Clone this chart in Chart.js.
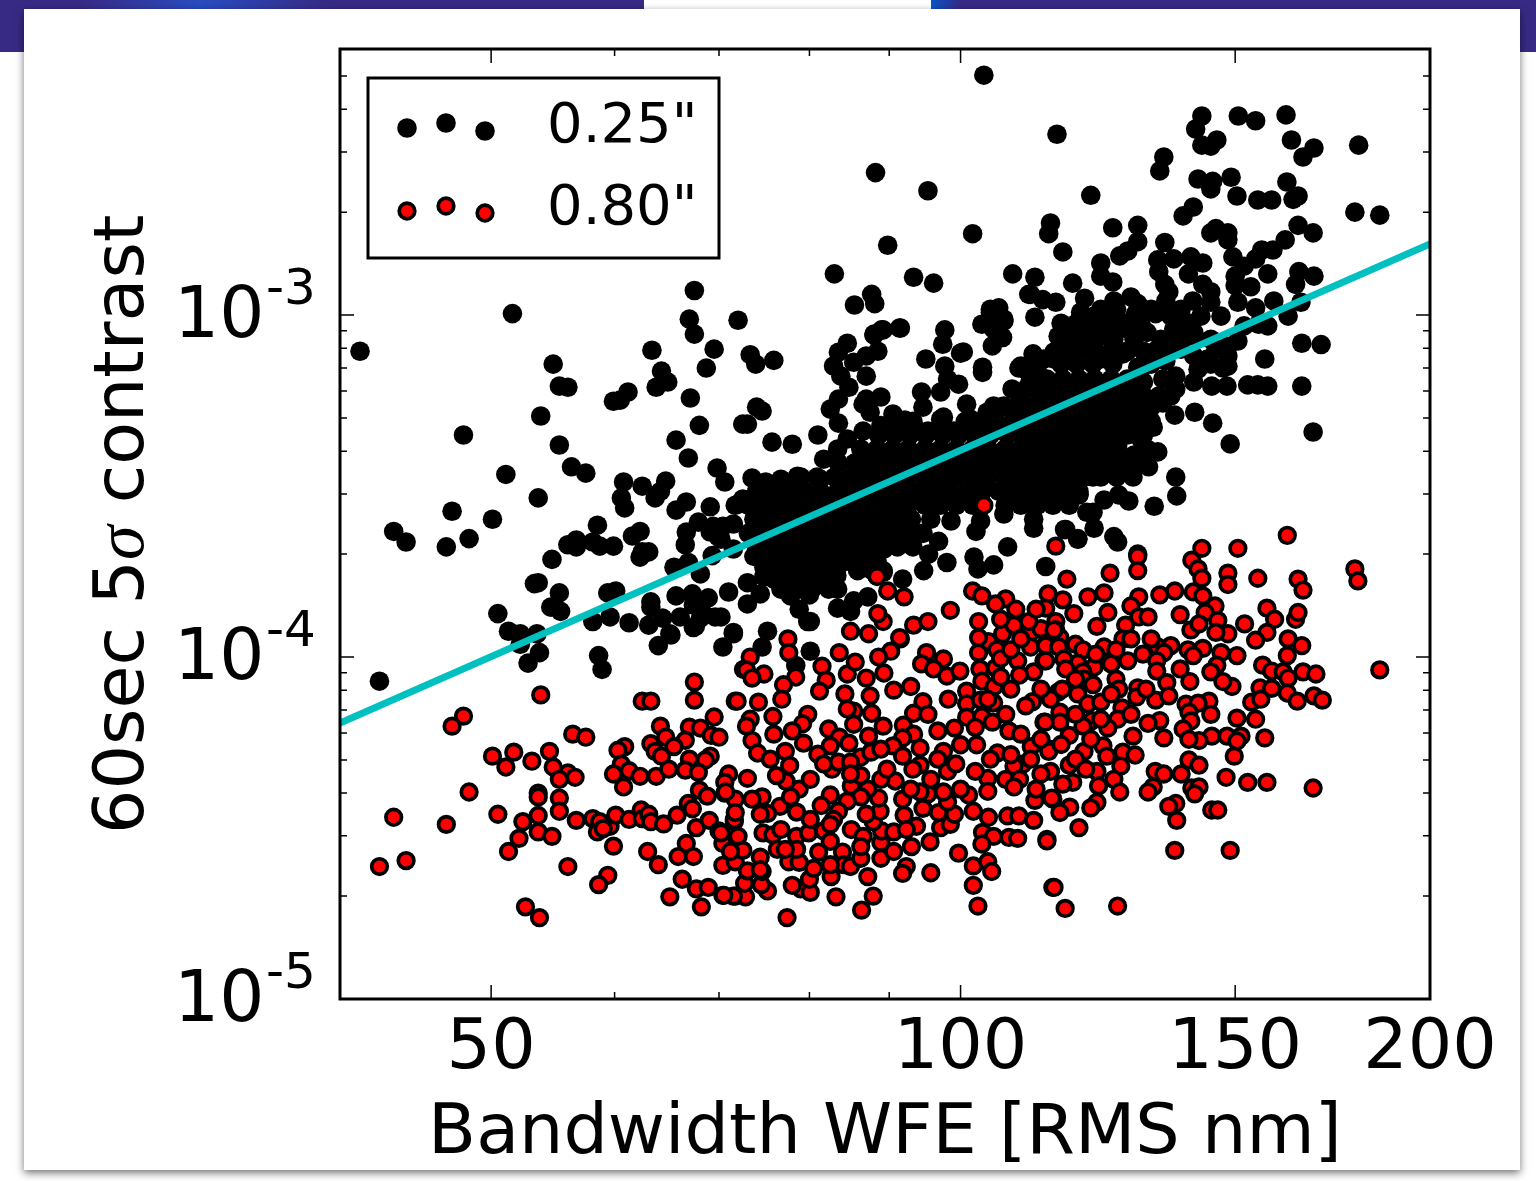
<!DOCTYPE html>
<html>
<head>
<meta charset="utf-8">
<title>Contrast vs WFE</title>
<script src="https://cdn.jsdelivr.net/npm/chart.js@4"></script>
<style>
    body { margin: 0; background: #fff; overflow: hidden; }
    .band { position: absolute; top: 0; height: 52px; }
    #bandLeft { left: 0; width: 644px; background: linear-gradient(90deg, #372a85 0, #372a85 80px, #2a4cc0 200px, #372a85 330px); }
    #bandRight { left: 931px; width: 605px; background: linear-gradient(90deg, #0a55c8 0, #372a85 30px); }
    #panel { position: absolute; left: 24px; top: 9px; width: 1496px; height: 1161px; background: #fff; box-shadow: 0 3px 8px rgba(0, 0, 0, .55); }
    #plot { position: absolute; left: 0; top: 0; }
</style>
</head>
<body>
<div class="band" id="bandLeft"></div>
<div class="band" id="bandRight"></div>
<div id="panel"></div>
<canvas id="plot" width="1536" height="1181"></canvas>
<script>
// Axis ticks and labels
const xMajorTicks = [50, 100, 150, 200];
const xMinorTicks = [60, 70, 80, 90];
const yDecades = [-3, -4, -5];
const yMinorFactors = [2, 3, 4, 5, 6, 7, 8, 9];
const xLabel = 'Bandwidth WFE [RMS nm]';
const seriesLabels = ['0.25"', '0.80"'];
const yMax = 6e-3;

// Contrast values in the arrays below are in units of 1e-4
const contrastUnit = 1e-4;

// Fit line, end points read at the axis limits
const fitLine = [[40, 0.641], [200, 16.14]];

// 0.25" separation: [WFE nm, contrast]
const points025 = [
[103.5,50.3],[115.3,33.8],[142.8,38.2],[141.5,35],[150.7,38.2],[154.6,37],[161.7,38.5],[142.8,31.4],[144.7,31.2],[146,32.5],[163,32.5],[168.5,30.8],[165.8,29],[180,31.4],[135,29],[134.2,26.4],[142,25],[145.1,24.6],[144.7,23.4],[149.1,25.3],[150.4,22.3],[155.1,21.7],[158.3,21.7],[161.9,24.5],[164.6,22.3],[163.4,21.8],[88.2,26.1],[95.3,23.1],[121.2,22.4],[179,20],[185.7,19.6],[141,20.7],[138.9,19.5],[101.8,17.3],[89.8,16],[114.2,18.6],[113.9,17.3],[116.3,15.3],[125.2,18],[129.9,18.3],[129.9,16.4],[128,15.4],[126.5,14.9],[135.2,16.3],[145.8,17.9],[144.7,17.4],[148.4,17.4],[148.4,16.6],[164.6,18.3],[168.3,17.4],[161.5,16.6],[158.6,15.5],[156,15.5],[83,13.2],[93.3,12.9],[96.1,12.4],[87.7,11.5],[88.1,10.8],[85.5,10.7],[108,13.2],[111.6,12.9],[118,12.4],[110.9,11.5],[112.9,11.1],[115.1,10.9],[120.1,11.2],[111.6,9.86],[91.5,9.17],[89,9.05],[88,8.8],[97.7,9.05],[84.6,8.27],
[67.5,11.8],[51.6,10.1],[41.2,7.84],[67,9.73],[67.5,8.8],[72,9.66],[63.4,7.89],[69.5,7.95],[68.7,7],[54.8,7.19],[55.3,6.2],[56,6.15],[64.3,6.86],[64.9,6.37],[63.8,6.15],[61.2,5.96],[60.5,5.64],[59.9,5.6],[67.1,5.72],[68,4.76],[72.5,4.8],[53.8,5.07],[48,4.46],[55.3,4.17],[65.7,4.31],[66.9,3.82],[69.8,3.57],[70.6,3.25],[56.3,3.6],[57.5,3.45],[51.1,3.42],[60.8,3.25],[62.5,3.16],[64.7,3.27],[64.2,3.05],[63.7,2.92],[60.6,2.92],[60.9,2.73],[53.6,2.92],[66.7,2.84],[65.7,2.69],[69.1,2.75],[72,2.8],[47.2,2.67],[50.1,2.53],[43.3,2.33],[44.1,2.17],[48.4,2.22],[46.8,2.1],[58.5,2.43],[56.7,2.2],[56,2.13],[56.7,2.1],[58.1,2.17],[58.7,2.11],[59.9,2.11],[61.6,2.26],[62.3,2.33],[62.5,2.03],[63.1,2.03],[62.3,1.96],[66.7,2.32],[66.6,2.13],[67.9,2.48],[69.4,2.41],[70.4,2.41],[71.5,2.45],[69.1,2.32],[70.2,2.21],[54.7,1.93],[53.3,1.64],[53.6,1.65],[65.5,1.83],[66.9,1.89],[68.1,1.75],[69.3,1.98],[55.3,1.54],[54.6,1.4],[55.4,1.36],[59.4,1.54],[60.1,1.56],[59.6,1.31],[58.1,1.27],[61.3,1.26],[63.1,1.24],[63.3,1.45],[63.3,1.4],[65.7,1.51],[67.3,1.53],[68.9,1.49],[71,1.55],[64.4,1.3],[66.1,1.31],[67.4,1.42],[68.3,1.35],[70.2,1.31],[50.5,1.34],[51.3,1.19],[52.2,1.17],[53.5,1.17],[65.1,1.17],[67.4,1.22],[71.5,1.18],[42.4,.85],[52.8,.96],[53.7,1.03],[52.2,1.09],[58.6,1.01],[58.9,.92],[64,1.08],[70.4,1.07],[72.6,.92],
[73.3,7.66],[73.9,7.19],[75.9,7.37],[74,5.38],[74.6,5.24],[73,4.8],[75.7,4.25],[78,4.19],[81,4.46],[91.4,9.17],[89.2,9.05],[88,8.74],[97.4,8.22],[100,7.74],[95,7.44],[83.5,7.79],[82.9,7.1],[87,7.59],[88.5,7.84],[85.4,7.28],[83.8,6.63],[87,6.63],[97.7,7.09],[98.1,6.5],[99.7,6.28],[97.1,5.96],[103.3,7.04],[103.3,6.8],[94.4,5.96],[84.8,6.15],[83.5,5.68],[82.5,5.31],[87,5.68],[88.9,5.76],[86.6,5.49],[87.5,5.2],[83.5,4.83],[90.5,5.14],[92.1,4.93],[94.6,5.38],[97.5,5.03],[100.9,5.49],[100.7,4.89],[103.7,4.89],[107.9,6.08],[104.5,10.2],[103.2,9.4],[106.6,9.6],[105,9.1],[106.4,8.6],[104.8,8.13],[109,7],[114.8,7.44],
[123,14.2],[133.8,14.5],[134,13.4],[137,14.6],[140.5,14.8],[143,14.2],[140,13.2],[149.5,14.8],[152,13.9],[154.6,14.6],[157.4,13.2],[164.8,13.4],[168.5,13],[164,12.3],[123,13],[125.2,12.5],[135.2,12.3],[143,12.3],[144.7,11.7],[150,13],[150,12.2],[153.5,12.1],[110.6,11.5],[136,11.7],[135.4,11],[140.9,11],[144.7,10.9],[150.6,10.9],[154.6,10.5],[158.8,11],[165.3,10.9],[162.2,9.93],[157.4,9.3],[155.3,9.4],[152,9.3],[150.6,8.4],[148.4,7.59],[104.5,10.4],[105.8,10.5],[106.6,9.73],[105.3,9.3],[106.1,8.6],[100.4,7.8],[116.3,9.3],[115.5,8.67],[119.4,10.2],[121.8,9.93],[125.4,11],[128.6,11.3],[129.9,10.8],[129.5,10.1],[126.1,9.6],[133.4,10.1],[136.4,9.93],[131.7,8.9],[129.2,8.5],[127.1,7.7],[120.7,8.7],[123.6,8.7],[125.4,8.5],[118.2,8.2],[121.2,7.95],[116,7.8],[123,7.44],[113.1,7.44],[109.3,7.1],[111.3,7.7],[134.4,8.5],[137,9.1],[133.8,7.95],[139.9,9.5],[141.1,8.67],[142.6,9.93],[146.9,9.93],[135.8,8.1],[141.1,7.6],[144.7,8.5],[148.4,7.09],[129.9,7.04],
[165.5,8.27],[170.3,8.2],[156.7,7.44],[165.5,6.2],[157.4,6.2],[155.1,6.25],[152.8,6.25],[148.2,6.2],[144.9,6.2],[147.3,7],[144.7,7.19],[142,6.95],[141.1,6.37],[137.4,6.63],[137.4,6.08],[136.4,5.8],[134.8,5.53],[137.2,5.1],[141.3,5.2],[145.1,4.83],[148.9,4.2],[168.3,4.55],[133.1,2.76],[137.4,3.36],[137.6,2.96],[133.8,3.98],[131.7,4.06],[132,3.6],[129.2,3.9],[126.3,3.62],[121.6,3.36],[119.1,2.98],[123.6,2.88],[126.3,2.98],[128.2,2.86],[121.6,2.65],[121.8,2.38],[116.8,2.36],[118.9,2.22],[125.4,2.25],[126.1,2.17],[129.9,2],
[94.7,1.79],[98,1.89],[102,1.96],[102.6,1.81],[105,1.86],[107.2,2.1],[106.6,2.62],[102.3,2.33],[103,2.5],[98.6,2.5],[96.8,2.18],[95.4,2],[111.4,2.38],[116.6,2.36],[118.9,2.21],[113.4,1.84],[119.1,3],[114.2,2.84],[111.4,2.75],[120.5,2.65],[88.9,2.07],[85.9,1.81],[89.2,1.79],[91.8,1.69],[83.1,1.72],[79.8,1.81],[77.8,1.72],[75.9,1.69],
[73.5,3.34],[75,3.25],[76.7,3.31],[78.6,3.38],[81.3,3.31],[83.8,3.25],[87.3,3.42],[72.5,2.9],[71.7,2.78],[75.2,2.76],[76.7,2.96],[79,3.1],[81.3,2.9],[83.4,3.05],[85.9,2.76],[84.6,3.14],[73.7,2.53],[75.9,2.65],[78.2,2.65],[80.5,2.57],[82.9,2.65],[85.4,2.53],[87.1,2.65],[89.2,2.57],[69.9,2.25],[71.5,2.07],[73.7,2.25],[75.9,2.32],[78.2,2.32],[80.5,2.32],[82.9,2.32],[85.4,2.25],[89.3,2.07],[87.6,2.07],[85.4,1.97],[82.9,2.03],[80.5,2.07],[77.5,2.07],[75.2,2.03],[73.7,1.97],[74.8,1.83],[79.9,1.81],[81.3,1.81],[83.8,1.88],[82.9,1.66],[83.4,1.58],[81,1.66],[77.5,1.72],[76.3,1.69],[74.8,1.72],[73,1.65],[74.4,1.53],[77.5,1.58],[77,1.65],[77.8,1.51],[80,1.52],[78.8,1.38],[80.1,1.27],[82.3,1.59],[73,1.43],[83.4,1.39],[85,1.36],[85.4,1.46],[87.2,1.5],[85.9,1.79],[87.8,1.79],[88.4,1.73],[89.2,1.77],[71.5,1.17],[75.2,1.19],[74.6,1.07],[80.1,1.04],[78.4,.945],[79.8,1.27],[68.1,1.38],[68.1,1.3],[69.6,1.31],[67.6,1.23],[65.2,1.16],
[81.7,3.79],[83.4,4.06],[84.6,4.34],[86.6,4.58],[88.9,4.75],[93.8,4.61],[95.3,4.58],[97.1,4.96],[99,4.58],[101.5,4.96],[104,5.2],[105,5.42],[106.6,5.42],[109.3,5.8],[110.5,6.2],[109.9,6.95],[112,7.1],[114.8,7.8],
[86.3,4.06],[88.4,4.06],[90.5,4.06],[92.6,4.06],[94.9,4.06],[97.1,4.06],[99.4,4.06],[101.8,4.06],[104.2,4.06],[106.8,4.06],[109.3,4.06],[112,4.06],[114.6,4.06],[117.4,4.06],[120.1,4.06],[123,4.06],[125.9,4.06],
[83.5,3.69],[85.5,3.69],[87.6,3.69],[89.7,3.69],[91.8,3.69],[94,3.69],[96.3,3.69],[98.5,3.69],[100.9,3.69],[103.3,3.69],[105.8,3.69],[108.3,3.69],[110.9,3.69],[113.6,3.69],[116.3,3.69],[119.1,3.69],[121.9,3.69],[124.9,3.69],[127.9,3.69],
[86.3,3.36],[88.4,3.36],[90.5,3.36],[92.6,3.36],[94.9,3.36],[97.1,3.36],[99.4,3.36],[101.8,3.36],[104.2,3.36],[106.8,3.36],[109.3,3.36],[112,3.36],[114.6,3.36],[117.4,3.36],[120.1,3.36],[123,3.36],[125.9,3.36],[129,3.36],
[85.5,3.05],[87.6,3.05],[89.7,3.05],[91.8,3.05],[94,3.05],[96.3,3.05],[98.5,3.05],[100.9,3.05],[103.3,3.05],[105.8,3.05],[108.3,3.05],[110.9,3.05],[113.6,3.05],[116.3,3.05],[119.1,3.05],
[88.4,2.78],[90.5,2.78],[92.6,2.78],[94.9,2.78],[97.1,2.78],[99.4,2.78],[101.8,2.78],[106.8,2.78],[109.3,2.78],[112,2.78],[114.6,2.78],[117.4,2.78],
[91,2.53],[93,2.53],[95.7,2.53],[111.4,2.53],[90.4,2.3],[92.4,2.3],[94.6,2.3],[91.1,2.1],[93.2,2.1],
[110.9,4.46],[113.6,4.46],[116.3,4.46],[119.1,4.46],[121.9,4.46],[124.9,4.46],[127.9,4.46],[131,4.46],
[109.7,4.89],[112.3,4.89],[115,4.89],[117.7,4.89],[120.5,4.89],[123.4,4.89],[126.3,4.89],[129.4,4.89],[132.5,4.89],
[108.3,5.38],[110.9,5.38],[113.6,5.38],[116.3,5.38],[119.1,5.38],[121.9,5.38],[124.9,5.38],[127.9,5.38],[131,5.38],
[112.3,5.92],[115,5.92],[117.7,5.92],[120.5,5.92],[123.4,5.92],[126.3,5.92],[129.4,5.92],
[110.9,6.5],[113.6,6.5],[116.3,6.5],[119.1,6.5],[121.9,6.5],[116,7.19],[118.7,7.19],[121.6,7.19],[125.2,7.19],
[119.4,9.1],[118.5,7.3],[128,9.1],[124.9,9.73],[119.4,9.93],[134.4,8.1],[133,7.8],[141.1,8.9],[148.4,8.1],[144,7.44],[121.8,7.95],[118.9,7.95],[117.7,8.67],[130.5,6.95],[131,6.37],[128.6,5.96],[131,5.8],[130.5,5.2],[128,4.83],[126.1,4.14],
[74,3.05],[75.8,3.05],[77.6,3.05],[79.5,3.05],[81.3,3.05],[73.1,2.78],[74.8,2.78],[76.7,2.78],[78.6,2.78],[80.3,2.78],[82.3,2.78],[84.3,2.78],[86.3,2.78],
[74,2.53],[75.8,2.53],[77.6,2.53],[79.5,2.53],[81.3,2.53],[83.3,2.53],[85.2,2.53],[87.3,2.53],[89.5,2.53],[73.1,2.3],[74.8,2.3],[76.7,2.3],[78.6,2.3],[80.3,2.3],[82.3,2.3],[84.3,2.3],[86.3,2.3],[88.4,2.3],
[74,2.1],[75.8,2.1],[77.6,2.1],[79.5,2.1],[81.3,2.1],[83.3,2.1],[85.2,2.1],[87.3,2.1],[89.5,2.1],[74.8,1.91],[76.7,1.91],[78.6,1.91],[80.3,1.91],[82.3,1.91],[84.3,1.91],[86.3,1.91],[88.4,1.91],
[75.8,1.73],[77.6,1.73],[79.5,1.73],[81.3,1.73],[83.3,1.73],[76.7,1.58],[78.6,1.58],[80.3,1.58],[82.3,1.58],[79,3.36],[80.9,3.36],[83,3.36],[85,3.36],
[88.6,4.46],[90.7,4.46],[92.8,4.46],[95,4.46],[97.4,4.46],[99.7,4.46],[102.1,4.46],[104.5,4.46],[107.2,4.46],[109.6,4.46],[91,4.89],[93.2,4.89],[103,4.89],[105.4,4.89],[108,4.89],[106.1,5.38],
[130.5,4.34],[132.9,4.7],[129,3.55],[131,3.79],
[119.1,7.84],[121.9,7.84],[124.9,7.84],[127.9,7.84],[131,7.84],[124.9,6.5],[127.9,6.5],[132.5,5.38],[134,5.8],[134.8,6.5],[132.5,7.19],[135.4,7.34],[138.5,7.95],[138.5,8.8],[145.8,7.95],
[116,9.47],[118.7,9.47],[121.6,9.47],[124.5,9.47],[127.5,9.47],[130.5,9.47],[123,10.4],[125.9,10.4],[132.5,10.4],[138.5,10.4]
];

// 0.80" separation: [WFE nm, contrast]
const points080 = [
[53.8,.775],[67.5,.845],[67.5,.748],[62.5,.743],[63.3,.743],[71.7,.743],[48,.672],[47.2,.628],[64.2,.628],[69.5,.668],[67,.624],[68.1,.62],[64.7,.583],[66.6,.571],[69.2,.59],[70,.583],[56.4,.595],[57.5,.583],[65.5,.547],[63.3,.558],[63.7,.53],[64.3,.513],[60.9,.547],[60.3,.534],[67,.503],[69.1,.513],[68.6,.5],[50.1,.513],[51.7,.527],[54.5,.53],[53.1,.496],[51.1,.477],[54.8,.477],[56,.458],[55.3,.439],[56.6,.445],[60.6,.486],[61.3,.465],[59.9,.455],[62.3,.448],[63.8,.448],[65,.47],[66.6,.467],[67.9,.46],[60.8,.417],[48.4,.403],[53.6,.4],[53.6,.39],[55.3,.387],[55.3,.354],[68,.408],[68.8,.392],[71,.455],[70.6,.43],[70.6,.4],[71.7,.384],[43.3,.34],[50.5,.347],[46.8,.324],[52.4,.33],[53.6,.344],[56.7,.333],[58.1,.337],[58.7,.33],[59.6,.32],[60.1,.345],[58.5,.308],[59,.315],[61.3,.335],[62.4,.357],[62.5,.337],[63.1,.347],[63.3,.33],[64.5,.325],[65.8,.345],[66.9,.373],[67.3,.36],[67.7,.317],[69,.333],[70,.31],[71.6,.33],[72,.299],[70.4,.285],[53.6,.308],[52.1,.295],[54.7,.299],[51.3,.27],[59.9,.28],[63,.27],[66.7,.285],[65.9,.261],[67.4,.261],[71.4,.272],[72.1,.27],[42.4,.244],[44.1,.254],[56,.244],[64,.247],[70.4,.246],[71.7,.252],[59.4,.23],[58.6,.216],[66.3,.224],[67.7,.21],[68.9,.212],[70.4,.201],[71.7,.2],[65.1,.199],[68.2,.186],[52.6,.186],[53.7,.173],
[77.5,1.13],[77.6,1.03],[73.3,1],[72.9,.917],[74.8,.892],[73.5,.868],[78.4,.874],[81.5,.94],[83.6,1.03],[85,1.19],[87.3,1.17],[89.2,1.27],[91.5,1.13],[90.2,1.04],[88.6,1],[93.3,1.24],[95.3,1.27],[95.1,1.03],[94.4,.955],[97.5,.987],[96.1,.923],[98,.88],[99.9,.91],[102.7,1.03],[104.2,1.11],[106.4,1.17],[102.7,1.14],[105.5,1.05],[105.3,.93],[102.9,.923],[103.2,.85],[108.8,.975],[110.9,1.18],[110.9,1.07],[113.4,1.09],[108.2,1.24],[111.4,.905],[109.1,.886],[113.1,.975],[89.3,.898],[87,.868],[84.6,.892],[82,.856],[85.6,.967],[77,.83],[76.8,.753],[81.2,.795],[84.3,.78],[90.6,.8],[92.9,.82],[87.5,.77],[94.6,.74],[100.9,.795],[98.2,.753],[100.9,.73],[103,.748],[105.1,.82],[105,.735],[111.2,.74],[115.5,.79],[114.2,.753],[71.9,.743],[74.2,.738],[75.8,.67],[73.3,.658],[72.9,.628],[79.8,.68],[79.2,.638],[78,.608],[75.9,.595],[79.3,.56],[77.2,.53],[73.5,.57],[74.1,.524],[85.4,.695],[87.7,.685],[84.6,.705],[85.4,.636],[89.2,.628],[87.3,.587],[82.3,.616],[83.6,.583],[82.5,.55],[84.8,.56],[81,.52],[82.7,.47],[81.7,.487],[83.5,.493],[86.3,.51],[87.6,.527],[85,.493],[91.9,.632],[93.3,.685],[95.3,.68],[96.7,.608],[99.1,.62],[100.9,.667],[103.2,.67],[104.8,.645],[102.2,.623],[93.3,.595],[91.8,.58],[90.5,.55],[94.2,.542],[91.8,.513],[97.5,.53],[96.7,.503],[94.2,.483],[93.2,.47],[98.1,.463],[102.4,.554],[105.6,.524],[107.4,.608],[109.3,.595],[111,.547],[113.1,.645],[114,.538],[109.6,.486],[114.2,.463],[108.2,.48],[112.6,.455],[104.1,.442],[102.2,.463],[106.9,.439],[109.1,.439],[108.2,.417],[104.1,.405],[101.2,.395],[111.6,.381],[114.6,.384],[101.9,.354],[104.2,.34],[107.2,.343],[109,.343],[111.4,.333],[103.3,.307],[105,.299],[107.4,.297],[108.8,.295],[103.2,.284],[113.6,.293],[99.7,.267],[101.9,.245],[104.1,.252],[104.7,.236],[95.7,.234],[92.3,.244],[91.8,.233],[101.9,.215],[102.6,.187],[114.6,.212],[87.9,.2],[86.4,.182],[83.2,.199],[87.2,.228],[82.6,.228],[79,.21],[80.1,.205],[80,.224],[80.5,.241],[78,.215],[77.4,.173],[75.2,.207],[74.5,.216],[72.8,.199],[72.7,.218],[73,.237],[74.6,.236],[74.4,.26],[71.5,.2],[70.5,.201],[72.5,.272],[74.7,.306],[75.8,.302],[76.3,.274],[77.6,.252],[78.8,.251],[78.5,.299],[78.5,.274],[79.9,.306],[81.7,.31],[81.1,.269],[82.5,.289],[84,.269],[84.2,.247],[85,.244],[86.3,.258],[85.1,.313],[86.6,.299],[88.9,.287],[89,.31],[88.9,.258],[90.6,.27],[93,.279],[95.6,.288],[93.7,.32],[90.6,.308],[87.9,.33],[92,.345],[94.6,.361],[97.1,.317],[98.5,.324],[99.1,.347],[96.8,.351],[98.1,.377],[97.5,.403],[95.3,.398],[94.2,.403],[91.8,.384],[88.8,.354],[88.6,.387],[90.8,.434],[88.9,.439],[89.7,.47],[87.2,.411],[85.1,.42],[86.3,.45],[86.3,.39],[84.6,.379],[82.5,.395],[83.5,.354],[81.4,.368],[82.9,.335],[78.5,.352],[76.6,.366],[78.8,.411],[77.3,.433],[77.7,.482],[76.2,.45],[77.8,.39],[75.2,.349],[74.6,.39],[73,.442],[71.6,.335],[70.7,.403],[71.7,.351],[73.5,.384],[70.2,.306],[71.2,.27],
[162,2.27],[142.8,2.08],[150.6,2.08],[115.1,2.11],[129.9,1.97],[129.9,1.79],[140.7,1.92],[142,1.81],[142.8,1.7],[124.7,1.76],[117,1.69],[148.4,1.76],[148.4,1.63],[155.1,1.7],[164.6,1.69],[165.8,1.57],[179,1.81],[179.8,1.67],[113.8,1.53],[116.3,1.47],[113.4,1.39],[120.7,1.5],[123.6,1.54],[130.1,1.5],[134.2,1.52],[137.2,1.56],[141,1.55],[143,1.51],[145.6,1.41],[128.6,1.41],[118.2,1.34],[124.3,1.35],[130.1,1.31],[131.9,1.31],[138.3,1.33],[143.5,1.35],[146.2,1.28],[152.1,1.25],[157.2,1.39],[159,1.29],[164,1.29],[164.6,1.35],[122.3,1.23],[127.6,1.24],[115.1,1.27],[115.1,1.2],[140.5,1.2],[142.2,1.25],[148.4,1.17],[145.8,1.18],[157.2,1.18],[154.6,1.12],[162.2,1.13],[165.5,1.08],[127.1,1.13],[115.8,1.14],[113.4,1.08],[115.6,1.07],[118.5,1.09],[119.8,1.05],[123.6,1.07],[125.8,1.05],[133.8,1.07],[136.4,1.08],[139.9,1.05],[135,1.03],[143,1.06],[141,1.01],[146.9,1.03],[150.4,1.01],[162,1.01],[156.2,.947],[158.3,.91],[165.8,.905],[169,.892],[161,.905],[162.2,.868],[185.7,.917],[128,.975],[130.9,1.02],[133.6,.975],[133.6,.91],[118.9,.96],[116.5,.987],[113.4,.975],[121.8,.935],[138.3,.923],[146,.947],[144.7,.905],[119.8,.905],[120,.862],[121.6,.83],[125.8,.862],[135.6,.842],[140.3,.848],[149.3,.82],[147.3,.848],[129.9,.813],[126.3,.806],[116.2,.806],[118.9,.78],[155.6,.813],[158.3,.81],[162,.785],[168.5,.77],[170.6,.748],[164.4,.743],[133.4,.748],[136,.77],[144.3,.743],[153.7,.738],[155.8,.753],[129.7,.765],[120.7,.73],[123,.738],[126.9,.71],[139.5,.728],[142,.733],[144.7,.68],[115.8,.69],[115.8,.645],[113.3,.645],[126.1,.658],[121.4,.652],[150.4,.663],[154.6,.658],[134.2,.652],[131.9,.64],[140.1,.69],[140.5,.65],[119.8,.628],[124.3,.62],[138.9,.616],[117.4,.59],[129,.587],[135,.58],[144.9,.587],[148.2,.587],[151.3,.587],[150.4,.568],[142.2,.57],[140.1,.575],[156.7,.58],[123.4,.55],[120,.53],[127.1,.527],[129.4,.517],[113.9,.53],[149.8,.513],[124.1,.513],[117.4,.483],[122.3,.463],[126.7,.48],[140.1,.5],[142.2,.483],[133.3,.463],[135,.455],[138.5,.455],[148,.445],[152.8,.43],[157.2,.43],[168.3,.414],[118,.43],[122.6,.42],[125.4,.439],[116.3,.425],[132.9,.417],[131.9,.403],[140.7,.414],[142.2,.417],[141.3,.398],[126.5,.403],[114.4,.387],[137.4,.373],[136,.366],[137.6,.333],[117.5,.364],[115.8,.351],[122.3,.376],[121.2,.362],[144.9,.357],[146.2,.357],[119.1,.317],[113.6,.29],[137.2,.272],[148.9,.272],[114.8,.212],[116.7,.184],[126.1,.187],
[106.1,.99],[107.7,.806],[110.1,.72],[112.6,.806],[106.9,.68],[104.1,.753],[107.7,1.05],[109.3,1.13],[112.6,1.21],[106.1,.874],[116.8,.923],[118.5,.862],[112.6,.575],[116,.555],[110.9,.503],[118.5,.503],[121.2,.575],[118.5,.68],[123,.658],[128.6,.68],[124.9,.78],[122.1,1.02],[124.9,.955],[128.6,1.13],[132.5,1.13],[131.5,.806],[111.8,.411],[120.3,.47],[107.7,.518],[104.5,.503],[100,.554],[99.3,.487],[95.7,.439],[100,.411],[88.9,.538],[85,.455],[80.1,.439],[75.5,.503],[92.9,.411],[87,.347],[80.1,.335],[76.7,.313],[74.4,.347],[77.2,.274],[82.5,.324],[86.3,.279],[92.3,.313],[82.5,.247],[74.4,.239],
[103.5,2.78],[88.4,1.72],[89.8,1.56],[92,1.5],[101.8,1.56],[106.9,1.48],[103.2,1.51],[88.5,1.34],[91.4,1.14],[98.5,1.37],[105.3,1.43],[102.7,1.27],[110.6,1.27],[114.8,1.2],[106.1,1.29],[108.5,1.38],[111.8,1.38]
];

const toXY = pairs => pairs.map(p => ({ x: p[0], y: p[1] * contrastUnit }));

const sans = '"DejaVu Sans"';

// Frame, inward ticks, y labels, y title and the three-marker legend
const decorations = {
    id: 'decorations',
    afterDraw(chart) {
        const { ctx, chartArea: a, scales } = chart;
        ctx.save();
        ctx.strokeStyle = '#000';
        ctx.fillStyle = '#000';

        // Tick marks on all four sides
        ctx.lineWidth = 1.5;
        const vTick = (v, len) => {
            const x = scales.x.getPixelForValue(v);
            ctx.beginPath();
            ctx.moveTo(x, a.bottom); ctx.lineTo(x, a.bottom - len);
            ctx.moveTo(x, a.top); ctx.lineTo(x, a.top + len);
            ctx.stroke();
        };
        const hTick = (v, len) => {
            if (v > yMax) return;
            const y = scales.y.getPixelForValue(v);
            ctx.beginPath();
            ctx.moveTo(a.left, y); ctx.lineTo(a.left + len, y);
            ctx.moveTo(a.right, y); ctx.lineTo(a.right - len, y);
            ctx.stroke();
        };
        xMajorTicks.forEach(v => vTick(v, 14));
        xMinorTicks.forEach(v => vTick(v, 7));
        yDecades.forEach(d => {
            hTick(Math.pow(10, d), 14);
            yMinorFactors.forEach(f => hTick(f * Math.pow(10, d), 7));
        });

        // Frame
        ctx.lineWidth = 3;
        ctx.strokeRect(a.left, a.top, a.right - a.left, a.bottom - a.top);

        // y tick labels with superscript exponent
        ctx.textBaseline = 'alphabetic';
        ctx.textAlign = 'left';
        yDecades.forEach(d => {
            const y = scales.y.getPixelForValue(Math.pow(10, d));
            ctx.font = '71px ' + sans;
            ctx.fillText('10', 174, y + 22);
            ctx.font = '50px ' + sans;
            ctx.fillText(String(d), 266, y - 11);
        });

        // y axis title, sigma in italic
        ctx.save();
        ctx.translate(143, 834);
        ctx.rotate(-Math.PI / 2);
        let cursor = 0;
        [['60sec 5', '70px ' + sans], ['σ', 'italic 70px "Liberation Serif"'], [' contrast', '70px ' + sans]].forEach(part => {
            ctx.font = part[1];
            ctx.fillText(part[0], cursor, 0);
            cursor += ctx.measureText(part[0]).width;
        });
        ctx.restore();

        // Legend
        ctx.lineWidth = 3;
        ctx.strokeRect(368, 78, 351, 180);
        const dot = (x, y, red) => {
            ctx.beginPath();
            if (red) {
                ctx.arc(x, y, 7.8, 0, Math.PI * 2);
                ctx.fillStyle = '#ff0000';
                ctx.fill();
                ctx.lineWidth = 3.7;
                ctx.stroke();
            } else {
                ctx.arc(x, y, 9.8, 0, Math.PI * 2);
                ctx.fillStyle = '#000';
                ctx.fill();
            }
        };
        [[407, 128], [446, 123], [485, 131]].forEach(p => dot(p[0], p[1], false));
        [[407, 211], [446, 206], [485, 213]].forEach(p => dot(p[0], p[1], true));
        ctx.fillStyle = '#000';
        ctx.font = '56px ' + sans;
        ctx.fillText(seriesLabels[0], 547, 142);
        ctx.fillText(seriesLabels[1], 547, 224);
        ctx.restore();
    }
};

new Chart(document.getElementById('plot'), {
    type: 'scatter',
    data: {
        datasets: [
            { label: seriesLabels[1], data: toXY(points080), order: 0, pointRadius: 7.8, pointBorderWidth: 3.7, pointBackgroundColor: '#ff0000', pointBorderColor: '#000' },
            { label: 'fit', data: toXY(fitLine), order: 1, showLine: true, pointRadius: 0, borderColor: '#00c0c0', borderWidth: 7 },
            { label: seriesLabels[0], data: toXY(points025), order: 2, pointRadius: 9.8, pointBorderWidth: 0, pointBackgroundColor: '#000' }
        ]
    },
    options: {
        responsive: false,
        animation: false,
        layout: { padding: { top: 49, right: 106, left: 0, bottom: 0 } },
        plugins: { legend: { display: false }, tooltip: { enabled: false } },
        scales: {
            x: {
                type: 'logarithmic',
                min: 40,
                max: 200,
                grid: { display: false },
                border: { display: false },
                afterFit: s => { s.height = 182; },
                afterBuildTicks: s => { s.ticks = xMajorTicks.map(v => ({ value: v })); },
                ticks: {
                    autoSkip: false,
                    maxRotation: 0,
                    padding: 1,
                    color: '#000',
                    font: { family: 'DejaVu Sans', size: 70 },
                    callback: v => String(v)
                },
                title: {
                    display: true,
                    text: xLabel,
                    color: '#000',
                    font: { family: 'DejaVu Sans', size: 70, lineHeight: 1 },
                    padding: { top: 0, bottom: 11 }
                }
            },
            y: {
                type: 'logarithmic',
                min: 1e-5,
                max: yMax,
                grid: { display: false },
                border: { display: false },
                afterFit: s => { s.width = 340; },
                ticks: { display: false }
            }
        }
    },
    plugins: [decorations]
});
</script>
</body>
</html>
